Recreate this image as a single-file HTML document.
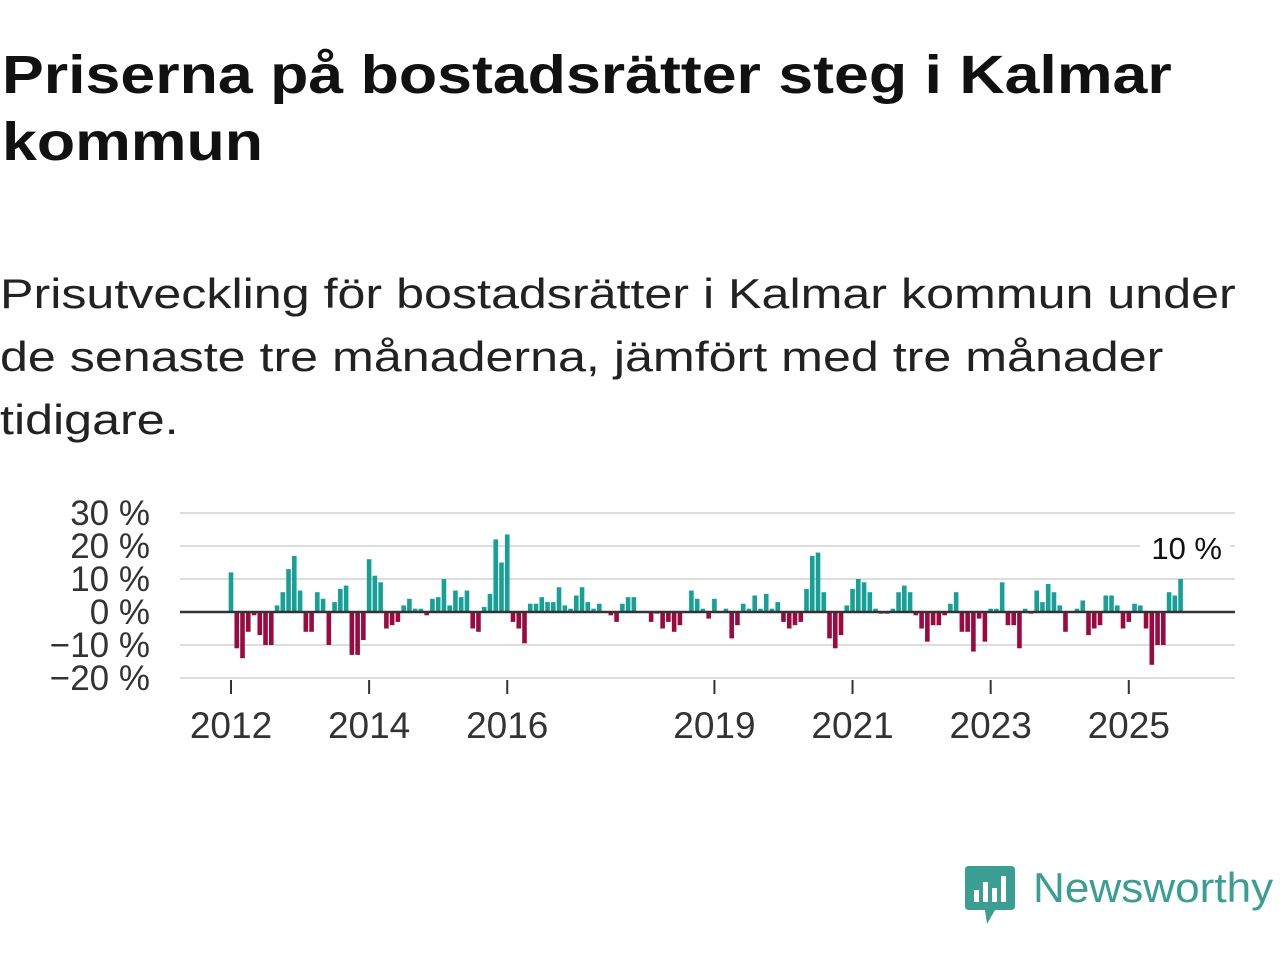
<!DOCTYPE html>
<html><head><meta charset="utf-8">
<style>
body{margin:0;width:1280px;height:960px;background:#fff;font-family:"Liberation Sans",sans-serif;overflow:hidden;position:relative;color:#111}
#title{position:absolute;left:2px;top:42px;font-size:54px;font-weight:bold;line-height:67px;margin:0;white-space:nowrap;transform:scaleX(1.16);transform-origin:0 0}
#sub{position:absolute;left:0;top:262px;font-size:42px;line-height:63px;color:#222;white-space:nowrap;transform:scaleX(1.195);transform-origin:0 0}
svg{position:absolute;left:0;top:0}
</style></head><body>
<h1 id="title">Priserna på bostadsrätter steg i Kalmar<br>kommun</h1>
<div id="sub">Prisutveckling för bostadsrätter i Kalmar kommun under<br>de senaste tre månaderna, jämfört med tre månader<br>tidigare.</div>
<svg id="chart" width="1280" height="960"></svg>
<div style="position:absolute;left:965px;top:866px;">
<svg width="50" height="60" style="position:static"><path d="M0 4 Q0 0 4 0 H46 Q50 0 50 4 V40 Q50 44 46 44 H30 L22 58 L20 44 H4 Q0 44 0 40Z" fill="#3a9e93"/><rect x="9" y="24" width="5" height="12" fill="#fff"/><rect x="18" y="16" width="5" height="20" fill="#fff"/><rect x="27" y="22" width="5" height="14" fill="#fff"/><rect x="36" y="10" width="5" height="26" fill="#fff"/></svg>
<span style="position:absolute;left:68px;top:-2px;font-size:42px;color:#3a9e93;white-space:nowrap;transform:scaleX(1.05);transform-origin:0 0">Newsworthy</span></div>
<script>
const values=[12,-11,-14,-6,-1,-7,-10,-10,2,6,13,17,6.5,-6,-6,6,4,-10,3,7,8,-13,-13,-8.5,16,11,9,-5,-4,-3,2,4,1,1,-1,4,4.5,10,2,6.5,4.5,6.5,
-5,-6,1.5,5.5,22,15,23.5,-3,-5,-9.5,2.5,2.5,4.5,3,3,7.5,2,1,5,7.5,3,1,2.5,0,-1,-3,2.5,4.5,4.5,0,0,-3,-0.5,-5,-3,-6,-4,0,6.5,4,1,-2,4,
0,1,-8,-4,2.5,1,5,1,5.5,1,3,-3,-5,-4,-3,7,17,18,6,-8,-11,-7,2,7,10,9,6,1,-0.5,-0.5,1,6,8,6,-1,-5,-9,-4,-4,-1,
2.5,6,-6,-6,-12,-2,-9,1,1,9,-4,-4,-11,1,-0.5,6.5,3,8.5,6,2,-6,0,1,3.5,-7,-5,-4,5,5,2,-5,-3,2.5,2,-5,-16,-10,-10,6,5,10];
const startYear=2012;
const yTicks=[30,20,10,0,-10,-20];
const yTickLabels=["30 %","20 %","10 %","0 %","\u221210 %","\u221220 %"];
const xTickYears=[2012,2014,2016,2019,2021,2023,2025];
const lastLabel="10 %";
const svg=document.getElementById('chart');const NS="http://www.w3.org/2000/svg";
const y=v=>612-v*3.3;
const x=i=>231+i*5.755;
function mk(t,a){const e=document.createElementNS(NS,t);for(const k in a)e.setAttribute(k,a[k]);svg.appendChild(e);return e;}
yTicks.forEach((t,k)=>{
 if(t!==0){const g=mk('line',{x1:180,x2:1235,y1:y(t),y2:y(t),stroke:'#ddd','stroke-width':2});
 
 }
 const l=mk('text',{x:150,y:y(t)+12,'text-anchor':'end','font-size':35,fill:'#333','font-family':'Liberation Sans, sans-serif'});
 l.textContent=yTickLabels[k];
 
 
});
values.forEach((v,i)=>{
 const r=mk('rect',{x:x(i)-2.3,width:4.6,y:Math.min(y(v),y(0)),height:Math.abs(y(v)-y(0)),fill:v>=0?'#16a096':'#9b0a3f'});
 
 
});
const z=mk('line',{x1:180,x2:1235,y1:y(0),y2:y(0),stroke:'#333','stroke-width':2.5});


xTickYears.forEach(yr=>{
 const xx=x((yr-startYear)*12);
 const t=mk('line',{x1:xx,x2:xx,y1:680,y2:694,stroke:'#333','stroke-width':2});
 
 
 const l=mk('text',{x:xx,y:738,'text-anchor':'middle','font-size':37,fill:'#333','font-family':'Liberation Sans, sans-serif'});
 l.textContent=yr;
 
 
});
const bg=mk('rect',{x:1140,y:530,width:90,height:36,fill:'#fff'});


const ll=mk('text',{x:1222,y:559,'text-anchor':'end','font-size':31,fill:'#111','font-family':'Liberation Sans, sans-serif'});
ll.textContent=lastLabel;


</script>
</body></html>
